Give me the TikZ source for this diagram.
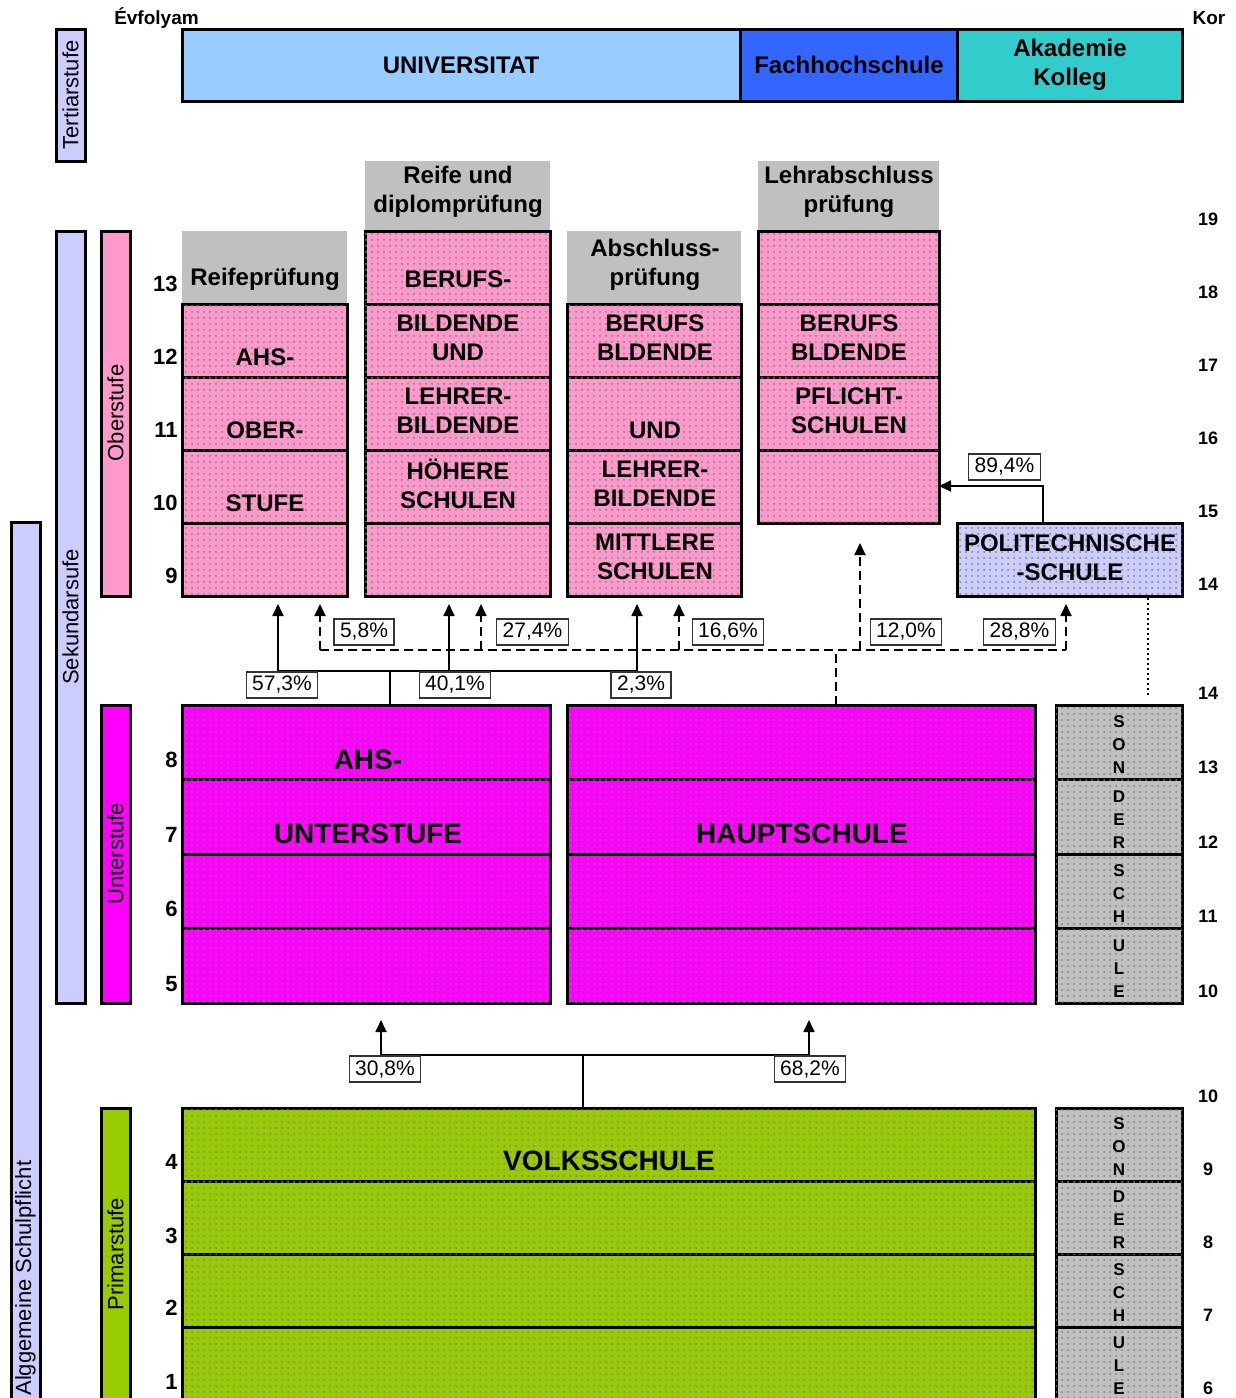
\documentclass[tikz,border=0pt]{standalone}
\usepackage{fontspec}
\setmainfont{Liberation Sans}
\usetikzlibrary{arrows.meta,patterns}

\definecolor{lavender}{HTML}{CCCCFF}
\definecolor{rose}{HTML}{FF99CC}
\definecolor{fuchsia}{HTML}{FF00FF}
\definecolor{grass}{HTML}{99CC00}
\definecolor{silver}{HTML}{C0C0C0}
\definecolor{skyblue}{HTML}{99CCFF}
\definecolor{royal}{HTML}{3366FF}
\definecolor{turquoise}{HTML}{33CCCC}

\tikzset{
  cellframe/.style={draw=black,line width=1.5pt},
  speckle/.style={postaction={pattern=dots,pattern color=black!50}},
  caps/.style={font=\bfseries\fontsize{12}{14.5}\selectfont,align=center,inner sep=0pt},
  bigcaps/.style={font=\bfseries\fontsize{14}{17}\selectfont,inner sep=0pt},
  stage/.style={rotate=90,font=\fontsize{11}{13}\selectfont,inner sep=0pt},
  grade/.style={font=\bfseries\fontsize{11}{13}\selectfont,anchor=east,inner sep=0pt},
  age/.style={font=\bfseries\fontsize{9}{11}\selectfont,inner sep=0pt},
  letters/.style={font=\bfseries\fontsize{8.5}{11.5}\selectfont,align=center,inner sep=0pt},
  pct/.style={draw=black!80,line width=0.6pt,fill=white,font=\fontsize{10.5}{12}\selectfont,
    inner xsep=3pt,inner ysep=0pt,minimum height=13pt},
  flow/.style={line width=0.9pt},
  bus/.style={line width=0.6pt},
  flowtip/.style={-{Triangle[length=6pt,width=5.5pt]}},
}

\begin{document}
\begin{tikzpicture}[x=0.5pt,y=-0.5pt]
  \useasboundingbox (0,0) rectangle (1236,1398);
  \clip (0,0) rectangle (1236,1398);
  %headings
  \node[font=\bfseries\fontsize{9.5}{11}\selectfont,inner sep=0pt,anchor=base] (evf) at (156.5,24) {Évfolyam};
  \node[font=\bfseries\fontsize{9.5}{11}\selectfont,inner sep=0pt,anchor=base] (kor) at (1209,24) {Kor};

  %stages down the side
  \draw[cellframe,fill=lavender] (56,29) rectangle (85,161);
  \node[stage] (tert) at (70.5,95) {Tertiarstufe};
  \draw[cellframe,fill=lavender] (56,231) rectangle (85,1003);
  \node[stage] (sek) at (70.5,617) {Sekundarsufe};
  \draw[cellframe,fill=lavender] (11,522) rectangle (40,1420);
  \node[stage,anchor=west] (pflicht) at (25.5,1396) {Alggemeine Schulpflicht};
  \draw[cellframe,fill=rose] (101,231) rectangle (130,596);
  \node[stage] (ober) at (115.5,413) {Oberstufe};
  \draw[cellframe,fill=fuchsia] (101,705) rectangle (130,1003);
  \node[stage] (unter) at (115.5,854) {Unterstufe};
  \draw[cellframe,fill=grass] (101,1108) rectangle (130,1420);
  \node[stage] (prim) at (115.5,1254) {Primarstufe};

  %tertiary row
  \draw[cellframe,fill=skyblue] (182,29) rectangle (740,101);
  \draw[cellframe,fill=royal] (740,29) rectangle (957,101);
  \draw[cellframe,fill=turquoise] (957,29) rectangle (1182,101);
  \node[caps] (uni) at (461,65) {UNIVERSITAT};
  \node[caps] (fh) at (849,65) {Fachhochschule};
  \node[caps] (akad) at (1070,65) {Akademie\\Kolleg};

  %upper secondary
  \fill[silver] (182,231) rectangle (347,304);
  \fill[silver] (365,161) rectangle (550,231);
  \fill[silver] (567,231) rectangle (741,304);
  \fill[silver] (758,161) rectangle (939,231);
  \foreach \y in {304,377,450,523}
    \draw[cellframe,fill=rose,speckle] (182,\y) rectangle (347,\y+73);
  \foreach \y in {231,304,377,450,523}
    \draw[cellframe,fill=rose,speckle] (365,\y) rectangle (550,\y+73);
  \foreach \y in {304,377,450,523}
    \draw[cellframe,fill=rose,speckle] (567,\y) rectangle (741,\y+73);
  \foreach \y in {231,304,377,450}
    \draw[cellframe,fill=rose,speckle] (758,\y) rectangle (939,\y+73);
  \draw[cellframe,fill=lavender,speckle] (957,523) rectangle (1182,596);

  \node[caps] (reife) at (265,279) {Reifeprüfung};
  \node[caps] (ahsoA) at (265,357) {AHS-};
  \node[caps] (ahsoB) at (265,430) {OBER-};
  \node[caps] (ahsoC) at (265,503) {STUFE};
  \node[caps] (diplom) at (458,192) {Reife und\\diplomprüfung};
  \node[caps] (bhsA) at (458,279) {BERUFS-};
  \node[caps] (bhsB) at (458,338) {BILDENDE\\UND};
  \node[caps] (bhsC) at (458,411) {LEHRER-\\BILDENDE};
  \node[caps] (bhsD) at (458,484) {HÖHERE\\SCHULEN};
  \node[caps] (abschl) at (655,265) {Abschluss-\\prüfung};
  \node[caps] (bmsA) at (655,338) {BERUFS\\BLDENDE};
  \node[caps] (bmsB) at (655,430) {UND};
  \node[caps] (bmsC) at (655,484) {LEHRER-\\BILDENDE};
  \node[caps] (bmsD) at (655,557) {MITTLERE\\SCHULEN};
  \node[caps] (lehr) at (849,192) {Lehrabschluss\\prüfung};
  \node[caps] (bsA) at (849,338) {BERUFS\\BLDENDE};
  \node[caps] (bsB) at (849,411) {PFLICHT-\\SCHULEN};
  \node[caps] (pts) at (1070,558) {POLITECHNISCHE\\-SCHULE};

  %lower secondary
  \foreach \y in {705,779.5,854,928.5}{
    \draw[cellframe,fill=fuchsia,speckle] (182,\y) rectangle (550,\y+74.5);
    \draw[cellframe,fill=fuchsia,speckle] (567,\y) rectangle (1035,\y+74.5);
  }
  \foreach \y/\w [count=\i] in {705/{S\\O\\N},779.5/{D\\E\\R},854/{S\\C\\H},928.5/{U\\L\\E}}{
    \draw[cellframe,fill=silver,speckle] (1056,\y) rectangle (1182,\y+74.5);
    \node[letters] (sonA\i) at (1119,\y+40) {\w};
  }
  \node[bigcaps] (ahsuA) at (368,760) {AHS-};
  \node[bigcaps] (ahsuB) at (368,834) {UNTERSTUFE};
  \node[bigcaps] (hs) at (802,834) {HAUPTSCHULE};

  %primary
  \foreach \y in {1108,1181,1254,1327}
    \draw[cellframe,fill=grass,speckle] (182,\y) rectangle (1035,\y+73);
  \foreach \y/\w [count=\i] in {1108/{S\\O\\N},1181/{D\\E\\R},1254/{S\\C\\H},1327/{U\\L\\E}}{
    \draw[cellframe,fill=silver,speckle] (1056,\y) rectangle (1182,\y+73);
    \node[letters] (sonB\i) at (1119,\y+39) {\w};
  }
  \node[bigcaps] (vs) at (609,1161) {VOLKSSCHULE};

  %grades and ages
  \foreach \g/\y in {13/284,12/357,11/430,10/503,9/576,8/760,7/835,6/909,5/984,4/1162,3/1236,2/1308,1/1382}
    \node[grade] (g\g) at (178,\y) {\g};
  \foreach \a/\y [count=\i] in {19/219,18/292,17/365,16/438,15/511,14/584,14/693,13/767,12/842,11/916,10/991,10/1096,9/1169,8/1242,7/1315,6/1388}
    \node[age] (age\i) at (1208,\y) {\a};

  %from AHS-Unterstufe
  \coordinate (ahsuTop) at (390,705);
  \coordinate (busA) at (390,671);
  \coordinate (inAHS) at (278,604);
  \coordinate (inBHS) at (449,604);
  \coordinate (inBMS) at (637,604);
  \draw[bus] (ahsuTop) -- (busA);
  \draw[bus] (inAHS |- busA) -- (inBMS |- busA);
  \foreach \t in {inAHS,inBHS,inBMS}
    \draw[flow,flowtip] (\t |- busA) -- (\t);
  \node[pct] (p573) at (282,685) {57,3\%};
  \node[pct] (p401) at (455,685) {40,1\%};
  \node[pct] (p23) at (641,685) {2,3\%};

  %from Hauptschule
  \coordinate (hsTop) at (836,705);
  \coordinate (busB) at (836,650);
  \coordinate (dAHS) at (320,604);
  \coordinate (dBHS) at (481,604);
  \coordinate (dBMS) at (679,604);
  \coordinate (dBS) at (860,543);
  \coordinate (dPTS) at (1066,604);
  \draw[flow,dash pattern=on 4.5pt off 2.5pt] (hsTop) -- (busB);
  \draw[flow,dash pattern=on 4.5pt off 2.5pt] (dAHS |- busB) -- (dPTS |- busB);
  \foreach \t in {dAHS,dBHS,dBMS,dBS,dPTS}
    \draw[flow,flowtip,dash pattern=on 4.5pt off 2.5pt] (\t |- busB) -- (\t);
  \node[pct] (p58) at (364,632) {5,8\%};
  \node[pct] (p274) at (532.5,632) {27,4\%};
  \node[pct] (p166) at (728,632) {16,6\%};
  \node[pct] (p120) at (906,632) {12,0\%};
  \node[pct] (p288) at (1019.5,632) {28,8\%};

  %from Politechnische Schule
  \coordinate (ptsTop) at (1043,523);
  \coordinate (bsIn) at (939,486);
  \draw[flow,flowtip] (ptsTop) |- (bsIn);
  \node[pct] (p894) at (1004.5,467) {89,4\%};
  \coordinate (ptsBot) at (1148,598);
  \coordinate (sonTop) at (1148,697);
  \draw[line width=1.2pt,dash pattern=on 1.2pt off 1.3pt] (ptsBot) -- (sonTop);

  %from Volksschule
  \coordinate (vsTop) at (583,1108);
  \coordinate (busC) at (583,1055);
  \coordinate (inAHSU) at (381,1020);
  \coordinate (inHS) at (809,1020);
  \draw[bus] (vsTop) -- (busC);
  \draw[bus] (inAHSU |- busC) -- (inHS |- busC);
  \foreach \t in {inAHSU,inHS}
    \draw[flow,flowtip] (\t |- busC) -- (\t);
  \node[pct] (p308) at (385,1069) {30,8\%};
  \node[pct] (p682) at (810,1069) {68,2\%};
\end{tikzpicture}
\end{document}
